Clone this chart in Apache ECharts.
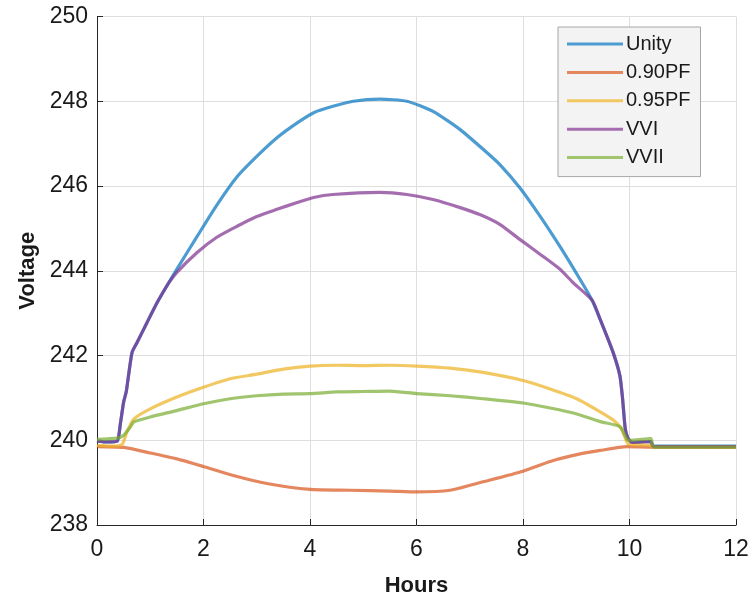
<!DOCTYPE html>
<html>
<head>
<meta charset="utf-8">
<script src="https://cdn.jsdelivr.net/npm/echarts@6/dist/echarts.min.js"></script>
<style>html,body{margin:0;padding:0;background:#fff}#c{width:753px;height:602px}</style>
</head>
<body>
<div id="c"></div>
<script>
const seriesNames = ['Unity', '0.90PF', '0.95PF', 'VVI', 'VVII'];
const xTicks = [0, 2, 4, 6, 8, 10, 12];
const yTicks = [238, 240, 242, 244, 246, 248, 250];

const unityHours = [0, 0.2, 0.38, 0.44, 0.5, 0.55, 0.6, 0.66, 0.75, 0.94, 1.13, 1.31, 1.5, 1.88, 2.25, 2.63, 3.0, 3.38, 3.76, 4.07, 4.43, 4.81, 5.31, 5.82, 6.31, 6.82, 7.32, 7.57, 7.94, 8.32, 8.69, 9.07, 9.3, 9.45, 9.69, 9.82, 9.87, 9.92, 9.97, 10.05, 10.4, 10.45, 12];
const unityVolts = [239.98, 239.96, 239.98, 240.4, 240.9, 241.15, 241.6, 242.08, 242.3, 242.78, 243.25, 243.64, 244.04, 244.81, 245.55, 246.22, 246.7, 247.14, 247.49, 247.73, 247.88, 248.0, 248.05, 248.0, 247.76, 247.33, 246.79, 246.5, 245.96, 245.29, 244.58, 243.8, 243.3, 242.85, 242.08, 241.52, 240.98, 240.27, 240.05, 239.95, 239.97, 239.86, 239.86];

const pf090Hours = [0, 0.5, 1.0, 1.5, 2.0, 2.56, 3.19, 4.0, 4.75, 5.5, 6.0, 6.63, 7.25, 8.0, 8.51, 9.01, 9.45, 9.95, 10.4, 12];
const pf090Volts = [239.85, 239.83, 239.7, 239.56, 239.38, 239.17, 238.98, 238.84, 238.82, 238.8, 238.78, 238.82, 239.02, 239.27, 239.5, 239.66, 239.76, 239.85, 239.84, 239.83];

const pf095Hours = [0, 0.3, 0.47, 0.56, 0.69, 1.0, 1.5, 2.0, 2.5, 3.0, 3.5, 4.0, 4.5, 5.0, 5.5, 6.0, 6.63, 7.25, 8.0, 8.51, 9.01, 9.45, 9.7, 9.85, 9.95, 10.0, 10.4, 10.45, 12];
const pf095Volts = [239.88, 239.86, 239.9, 240.19, 240.5, 240.74, 241.02, 241.25, 241.45, 241.56, 241.68, 241.75, 241.77, 241.76, 241.77, 241.75, 241.7, 241.6, 241.41, 241.21, 240.98, 240.67, 240.47, 240.27, 239.96, 239.9, 239.88, 239.83, 239.83];

const vviHours = [0, 0.2, 0.38, 0.44, 0.5, 0.55, 0.6, 0.66, 0.75, 0.94, 1.13, 1.31, 1.5, 1.88, 2.25, 2.63, 3.0, 3.38, 3.76, 4.07, 4.43, 5.31, 5.82, 6.31, 6.82, 7.2, 7.57, 7.94, 8.32, 8.69, 8.94, 9.3, 9.45, 9.69, 9.82, 9.87, 9.92, 9.97, 10.05, 10.4, 10.45, 12];
const vviVolts = [239.98, 239.96, 239.98, 240.4, 240.9, 241.15, 241.6, 242.08, 242.3, 242.78, 243.25, 243.64, 243.96, 244.43, 244.79, 245.05, 245.28, 245.45, 245.61, 245.73, 245.8, 245.85, 245.8, 245.68, 245.49, 245.32, 245.09, 244.74, 244.39, 244.04, 243.72, 243.3, 242.85, 242.08, 241.52, 240.98, 240.27, 240.05, 239.95, 239.97, 239.85, 239.85];

const vviiHours = [0, 0.38, 0.5, 0.63, 0.69, 1.0, 1.5, 2.0, 2.5, 3.0, 3.5, 4.0, 4.5, 5.0, 5.5, 6.0, 6.63, 7.25, 8.0, 8.51, 9.01, 9.45, 9.82, 9.95, 10.0, 10.4, 10.45, 12];
const vviiVolts = [240.02, 240.05, 240.12, 240.32, 240.43, 240.55, 240.7, 240.86, 240.98, 241.05, 241.09, 241.1, 241.14, 241.15, 241.16, 241.1, 241.05, 240.98, 240.88, 240.76, 240.62, 240.44, 240.32, 240.02, 240.0, 240.04, 239.84, 239.84];

const baseColors = ['#0072BD', '#D95319', '#EDB120', '#7E2F8E', '#77AC30'];
const legendColors = ['#4d9cd1', '#e4875e', '#f2c862', '#a56db0', '#a0c56e'];

const xs = [unityHours, pf090Hours, pf095Hours, vviHours, vviiHours];
const ys = [unityVolts, pf090Volts, pf095Volts, vviVolts, vviiVolts];

const chart = echarts.init(document.getElementById('c'), null, {renderer: 'canvas'});
const font = 'Liberation Sans, Arial, Helvetica, sans-serif';
const axisColor = '#262626';

const series = seriesNames.map((name, i) => ({
  name: name,
  type: 'line',
  data: xs[i].map((x, j) => [x, ys[i][j]]),
  showSymbol: false,
  smooth: 0.2,
  color: legendColors[i],
  lineStyle: {color: baseColors[i], width: 3.2, opacity: 0.7, join: 'round'},
  itemStyle: {color: legendColors[i]},
  z: 2 + i,
  animation: false
}));

chart.setOption({
  animation: false,
  backgroundColor: '#ffffff',
  grid: {left: 97, right: 17, top: 16.5, bottom: 76, containLabel: false},
  legend: {
    orient: 'vertical',
    left: 558,
    top: 27,
    icon: 'rect',
    itemWidth: 56,
    itemHeight: 3,
    itemGap: 8.4,
    padding: [7, 10, 9, 9],
    backgroundColor: '#f3f3f3',
    borderColor: '#a6a6a6',
    borderWidth: 1,
    borderRadius: 0,
    textStyle: {fontFamily: font, fontSize: 20, color: '#1a1a1a', lineHeight: 20, padding: [0, 0, 0, -2]},
    data: seriesNames.map((n, i) => ({name: n, itemStyle: {color: legendColors[i]}}))
  },
  xAxis: {
    type: 'value',
    min: xTicks[0],
    max: xTicks[xTicks.length - 1],
    interval: 2,
    name: 'Hours',
    nameLocation: 'middle',
    nameGap: 50,
    nameTextStyle: {fontFamily: font, fontSize: 22, fontWeight: 'bold', color: '#1a1a1a'},
    axisLine: {show: true, onZero: false, lineStyle: {color: axisColor, width: 1}},
    axisTick: {show: true, inside: true, length: 6, lineStyle: {color: axisColor}},
    axisLabel: {fontFamily: font, fontSize: 23, color: '#1a1a1a', margin: 13},
    splitLine: {show: true, lineStyle: {color: '#dedede', width: 1}}
  },
  yAxis: {
    type: 'value',
    min: yTicks[0],
    max: yTicks[yTicks.length - 1],
    interval: 2,
    name: 'Voltage',
    nameLocation: 'middle',
    nameGap: 55,
    nameTextStyle: {fontFamily: font, fontSize: 22, fontWeight: 'bold', color: '#1a1a1a'},
    axisLine: {show: true, onZero: false, lineStyle: {color: axisColor, width: 1}},
    axisTick: {show: true, inside: true, length: 6, lineStyle: {color: axisColor}},
    axisLabel: {fontFamily: font, fontSize: 23, color: '#1a1a1a', margin: 9},
    splitLine: {show: true, lineStyle: {color: '#dedede', width: 1}}
  },
  series: series
});
</script>
</body>
</html>
